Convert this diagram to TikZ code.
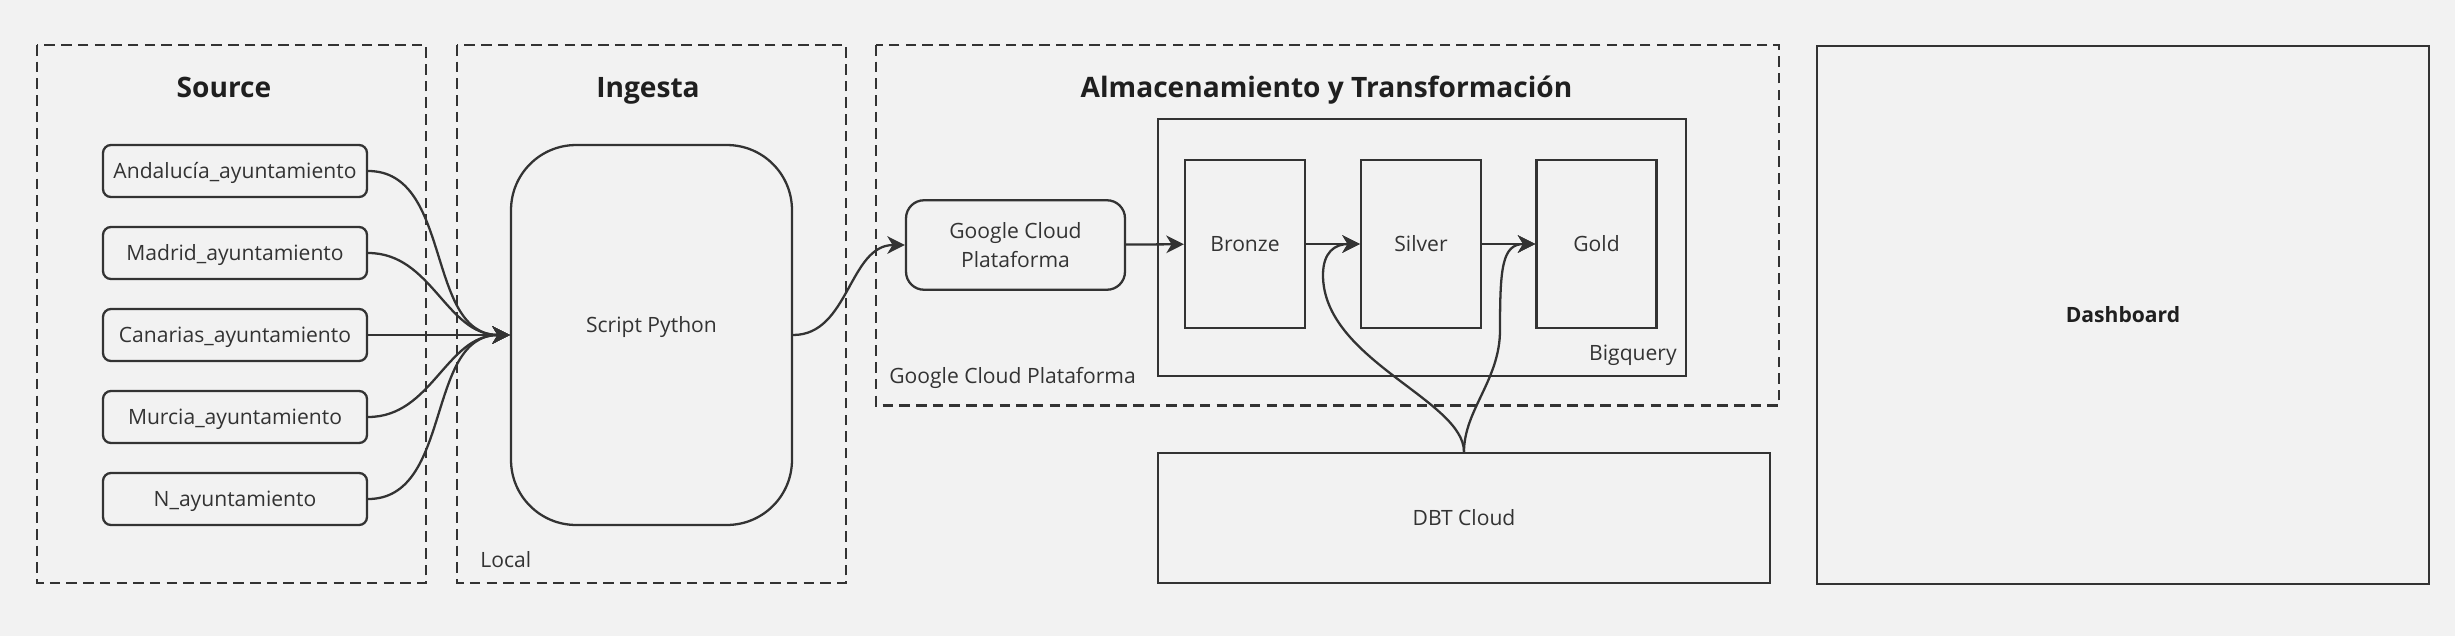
\documentclass[tikz,border=0pt]{standalone}
\usepackage{fontspec}
\setmainfont{Open Sans}
\usepackage{tikz}
\usetikzlibrary{arrows.meta}
\definecolor{linegray}{HTML}{333333}
\definecolor{textgray}{HTML}{333333}
\definecolor{titlegray}{HTML}{1F1F1F}
\definecolor{bggray}{HTML}{F2F2F2}

\begin{document}
\begin{tikzpicture}[x = 0.02cm, y = -0.02cm,
  every node/.style = {text=textgray, font=\fontsize{12}{16.5}\selectfont},
  groupbox/.style = {draw=linegray, line width=1.3pt, dash pattern=on 6pt off 3.5pt},
  srcbox/.style = {draw=linegray, line width=1.3pt, rounded corners=4.5pt, minimum width=5.28cm, minimum height=1.04cm, inner sep=0pt, text height=0.3cm, text depth=0cm},
  layerbox/.style = {draw=linegray, line width=1.3pt, minimum width=2.4cm, minimum height=3.37cm, inner sep=0pt, text height=0.3cm, text depth=0cm},
  plainbox/.style = {draw=linegray, line width=1.3pt, inner sep=0pt},
  grouptitle/.style = {anchor=base, inner sep=0pt, text=titlegray, font=\fontsize{16}{19}\selectfont\bfseries},
  grouplabel/.style = {inner sep=0pt},
  flow/.style = {draw=linegray, line width=1.3pt, -{Stealth[length=10pt, width=10pt, inset=3pt]}}]
%background
\fill[bggray] (0, 0) rectangle (2455, 636);
\useasboundingbox (0, 0) rectangle (2455, 636);

%draw groups
\draw[groupbox] (37, 45) rectangle (426, 583);
\draw[groupbox] (457, 45) rectangle (846, 583);
\draw[groupbox] (876, 45) rectangle (1779, 405.5);
\node[grouptitle] (tsource) at (224, 97) {Source};
\node[grouptitle] (tingesta) at (648, 97) {Ingesta};
\node[grouptitle] (talmacen) at (1326.5, 97) {Almacenamiento y Transformación};
\node[grouplabel, anchor=west] (llocal) at (480, 560) {Local};
\node[grouplabel, anchor=west] (lgcp) at (889, 378) {Google Cloud Plataforma};

%draw sources
\node[srcbox] (src1) at (235, 171) {Andalucía\_ayuntamiento};
\node[srcbox] (src2) at (235, 253) {Madrid\_ayuntamiento};
\node[srcbox] (src3) at (235, 335) {Canarias\_ayuntamiento};
\node[srcbox] (src4) at (235, 417) {Murcia\_ayuntamiento};
\node[srcbox] (src5) at (235, 499) {N\_ayuntamiento};

%draw ingesta
\node[plainbox, rounded corners=1.3cm, minimum width=5.62cm, minimum height=7.6cm, text height=0.3cm, text depth=0.42cm] (script) at (651.5, 335) {Script Python};

%draw storage
\node[plainbox, rounded corners=0.36cm, minimum width=4.38cm, minimum height=1.79cm, align=center] (gcp) at (1015.5, 245) {Google Cloud\\Plataforma};
\node[plainbox, minimum width=10.57cm, minimum height=5.14cm] (bq) at (1422, 247.5) {};
\node[grouplabel, anchor=east] (lbq) at (1677, 355) {Bigquery};
\node[layerbox] (bronze) at (1245, 244) {Bronze};
\node[layerbox] (silver) at (1421, 244) {Silver};
\node[layerbox] (gold) at (1596.5, 244) {Gold};

%draw dbt and dashboard
\node[plainbox, minimum width=12.24cm, minimum height=2.6cm, text height=0.3cm, text depth=0cm] (dbt) at (1464, 518) {DBT Cloud};
\node[plainbox, minimum width=12.24cm, minimum height=10.76cm, text height=0.3cm, text depth=0cm, text=titlegray, font=\fontsize{12}{16}\selectfont\bfseries] (dash) at (2123, 315) {Dashboard};

%draw arrows
\foreach \i in {1,...,5}
  \draw[flow] (src\i.east) to[out=0, in=180] (script.west);
\draw[flow] (script.east) to[out=0, in=180] (gcp.west);
\draw[flow] (gcp) -- (bronze);
\draw[flow] (bronze) -- (silver);
\draw[flow] (silver) -- (gold);
\coordinate (bendL) at (1323, 275);
\coordinate (bendR) at (1500, 330);
\draw[flow] (dbt.north) .. controls (1464, 400) and (1323, 360) .. (bendL) .. controls (1323, 252) and (1335, 244) .. (silver.west);
\draw[flow] (dbt.north) .. controls (1464, 410) and (1500, 380) .. (bendR) .. controls (1500, 268) and (1502, 244) .. (gold.west);
\end{tikzpicture}
\end{document}
